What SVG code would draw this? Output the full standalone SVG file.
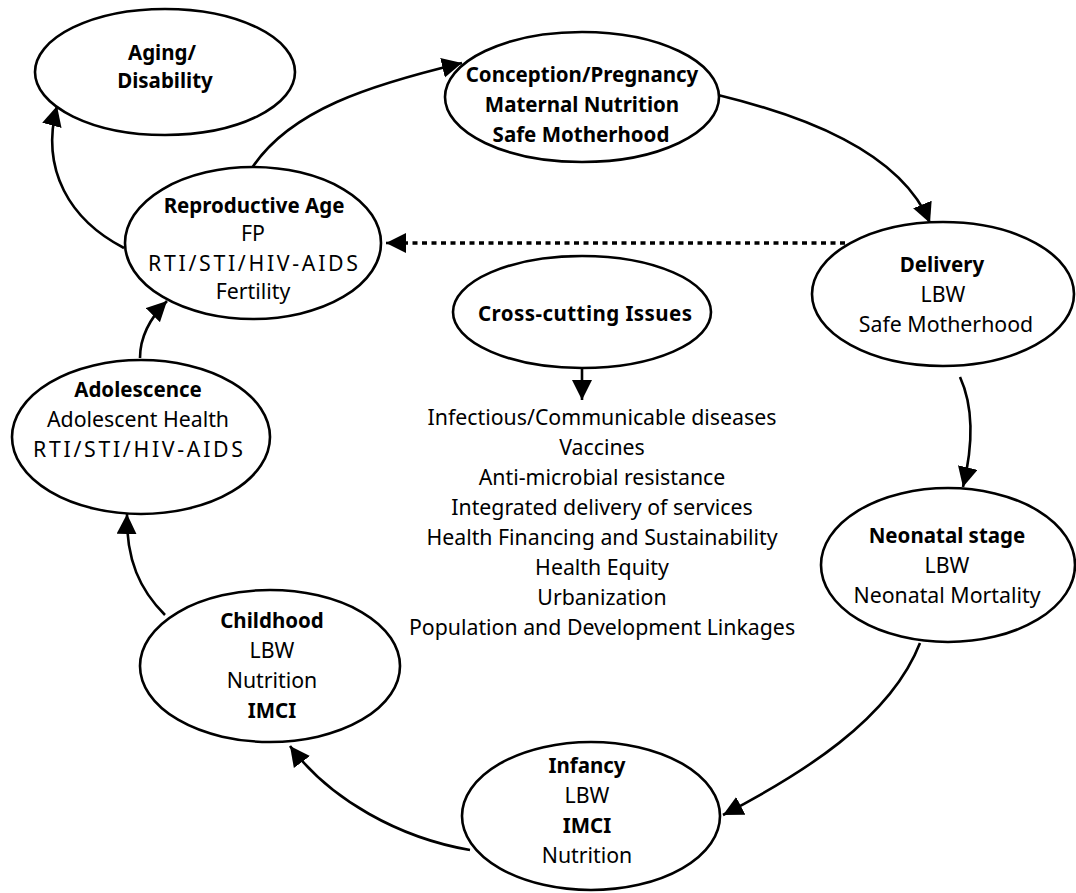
<svg xmlns="http://www.w3.org/2000/svg" width="1076" height="893" viewBox="0 0 1076 893">
<style>
.n{fill:#fff;stroke:#000;stroke-width:2.6}
text{font-family:"Noto Sans","DejaVu Sans",sans-serif;font-size:21.3px;text-anchor:middle;fill:#000}
.b{font-weight:bold;font-size:20.5px}
.c{fill:none;stroke:#000;stroke-width:2.6}
.d{fill:none;stroke:#000;stroke-width:3.5;stroke-dasharray:5 4.5}
</style>
<defs>
<marker id="ah" markerUnits="userSpaceOnUse" markerWidth="22" markerHeight="22" refX="20" refY="10" orient="auto" viewBox="0 0 22 22">
<path d="M0,0 L20,10 L0,20 z" fill="#000"/>
</marker>
</defs>
<rect width="1076" height="893" fill="#fff"/>
<g id="connectors">
<path class="c" d="M124,248 C70,220 40,170 57,106" marker-end="url(#ah)"/>
<path class="c" d="M252,168 C290,110 370,85 462,63" marker-end="url(#ah)"/>
<path class="c" d="M718,95 C800,115 900,150 930,223" marker-end="url(#ah)"/>
<path class="d" d="M845,243 L405,243"/>
<path class="c" d="M406,243 L386,243" marker-end="url(#ah)"/>
<path class="c" d="M960,377 C975,410 972,450 963,487" marker-end="url(#ah)"/>
<path class="c" d="M920,643 C890,720 800,775 723,815" marker-end="url(#ah)"/>
<path class="c" d="M470,850 C400,838 330,800 290,746" marker-end="url(#ah)"/>
<path class="c" d="M165,615 C140,590 126,560 127,514" marker-end="url(#ah)"/>
<path class="c" d="M140,358 C140,340 148,320 167,301" marker-end="url(#ah)"/>
<path class="c" d="M582,368 L582,400" marker-end="url(#ah)"/>
</g>
<g id="aging">
<ellipse class="n" cx="165" cy="72" rx="130" ry="63"/>
<text class="b" x="162" y="60">Aging/</text>
<text class="b" x="165" y="88">Disability</text>
</g>
<g id="conception">
<ellipse class="n" cx="582" cy="97" rx="137" ry="65"/>
<text class="b" x="582" y="82">Conception/Pregnancy</text>
<text class="b" x="582" y="112">Maternal Nutrition</text>
<text class="b" x="581" y="142">Safe Motherhood</text>
</g>
<g id="reproductive">
<ellipse class="n" cx="253" cy="243" rx="128" ry="76"/>
<text class="b" x="254" y="213">Reproductive Age</text>
<text x="253" y="241">FP</text>
<text x="253" y="271" textLength="210" lengthAdjust="spacing">RTI/STI/HIV-AIDS</text>
<text x="253" y="299">Fertility</text>
</g>
<g id="delivery">
<ellipse class="n" cx="943" cy="294" rx="131" ry="72"/>
<text class="b" x="942" y="272">Delivery</text>
<text x="943" y="302">LBW</text>
<text x="946" y="332">Safe Motherhood</text>
</g>
<g id="crosscutting">
<ellipse class="n" cx="582" cy="312" rx="129" ry="56"/>
<text class="b" x="585" y="321" textLength="214" lengthAdjust="spacing">Cross-cutting Issues</text>
</g>
<g id="issues">
<text x="602" y="425">Infectious/Communicable diseases</text>
<text x="602" y="455">Vaccines</text>
<text x="602" y="485">Anti-microbial resistance</text>
<text x="602" y="515">Integrated delivery of services</text>
<text x="602" y="545">Health Financing and Sustainability</text>
<text x="602" y="575">Health Equity</text>
<text x="602" y="605">Urbanization</text>
<text x="602" y="635">Population and Development Linkages</text>
</g>
<g id="neonatal">
<ellipse class="n" cx="948" cy="565" rx="127" ry="77"/>
<text class="b" x="947" y="543">Neonatal stage</text>
<text x="947" y="573">LBW</text>
<text x="947" y="603">Neonatal Mortality</text>
</g>
<g id="infancy">
<ellipse class="n" cx="591" cy="816" rx="129" ry="74"/>
<text class="b" x="587" y="773">Infancy</text>
<text x="587" y="803">LBW</text>
<text class="b" x="587" y="833">IMCI</text>
<text x="587" y="863">Nutrition</text>
</g>
<g id="childhood">
<ellipse class="n" cx="270" cy="666" rx="130" ry="76"/>
<text class="b" x="272" y="628">Childhood</text>
<text x="272" y="658">LBW</text>
<text x="272" y="688">Nutrition</text>
<text class="b" x="272" y="718">IMCI</text>
</g>
<g id="adolescence">
<ellipse class="n" cx="141" cy="437" rx="129" ry="77"/>
<text class="b" x="138" y="397">Adolescence</text>
<text x="138" y="427">Adolescent Health</text>
<text x="138" y="457" textLength="210" lengthAdjust="spacing">RTI/STI/HIV-AIDS</text>
</g>
</svg>
